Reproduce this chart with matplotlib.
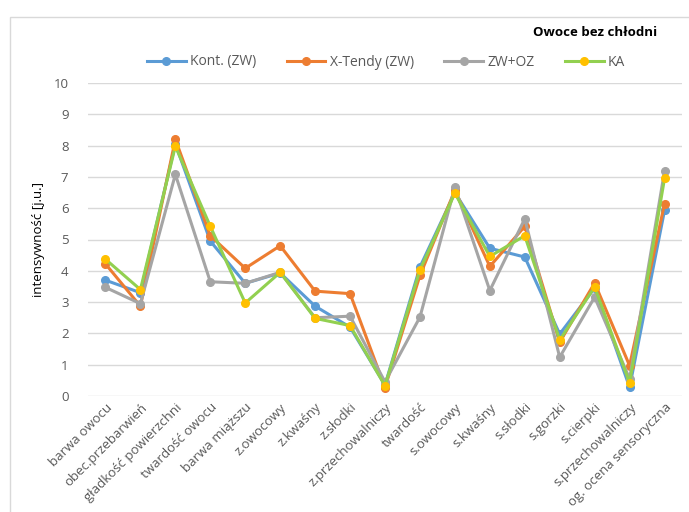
import matplotlib.pyplot as plt
from matplotlib.patches import Rectangle

categories = ['barwa owocu', 'obec.przebarwień', 'gładkość powierzchni', 'twardość owocu',
              'barwa miąższu', 'z.owocowy', 'z.kwaśny', 'z.słodki', 'z.przechowalniczy',
              'twardość', 's.owocowy', 's.kwaśny', 's.słodki', 's.gorzki', 's.cierpki',
              's.przechowalniczy', 'og. ocena sensoryczna']

kont = [3.70, 3.30, 8.05, 4.95, 3.60, 3.93, 2.87, 2.20, 0.35, 4.12, 6.50, 4.72, 4.44, 1.98, 3.45, 0.28, 5.93]
xtendy = [4.22, 2.87, 8.20, 5.12, 4.08, 4.80, 3.35, 3.27, 0.27, 3.85, 6.57, 4.14, 5.42, 1.72, 3.61, 0.97, 6.14]
zw_oz = [3.47, 2.95, 7.08, 3.65, 3.60, 3.95, 2.50, 2.55, 0.45, 2.52, 6.67, 3.37, 5.66, 1.24, 3.16, 0.55, 7.18]
ka = [4.37, 3.40, 7.98, 5.42, 2.97, 3.95, 2.48, 2.25, 0.33, 4.03, 6.48, 4.46, 5.12, 1.79, 3.48, 0.42, 6.95]

plt.rcParams['font.family'] = ['Open Sans', 'DejaVu Sans']

fig = plt.figure(figsize=(6.89, 5.12), dpi=100)
W, H = 689, 512

# chart frame
fig.patches.append(Rectangle((10 / W, -0.1), 1.2, 1 - 17 / H + 0.1, transform=fig.transFigure,
                             fill=False, edgecolor='#D9D9D9', linewidth=1.0))

ax = fig.add_axes([88 / W, 1 - 396 / H, (682 - 88) / W, (396 - 83) / H])
x = range(len(categories))

series = [
    ('Kont. (ZW)', kont, '#5B9BD5', '#5B9BD5'),
    ('X-Tendy (ZW)', xtendy, '#ED7D31', '#ED7D31'),
    ('ZW+OZ', zw_oz, '#A5A5A5', '#A5A5A5'),
    ('KA', ka, '#92D050', '#FFC000'),
]
for name, vals, col, mcol in series:
    ax.plot(x, vals, color=col, linewidth=2.2, marker='o', markersize=5.5,
            markerfacecolor=mcol, markeredgecolor=mcol, label=name, zorder=3)

ax.set_xlim(-0.5, len(categories) - 0.5)
ax.set_ylim(0, 10)
ax.set_yticks(range(0, 11))
ax.grid(axis='y', color='#D9D9D9', linewidth=1.0)
ax.set_axisbelow(True)
for s in ax.spines.values():
    s.set_visible(False)
ax.tick_params(axis='both', length=0, colors='#595959', labelsize=9.5)
ax.tick_params(axis='y', pad=14)
ax.set_xticks(list(x))
ax.set_xticklabels(categories, rotation=45, ha='right', rotation_mode='anchor', fontsize=9.5)
ax.set_ylabel('intensywność [j.u.]', fontsize=9.5, color='black', labelpad=6)

fig.text(657 / W, 1 - 33 / H, 'Owoce bez chłodni', ha='right', va='center',
         fontsize=9.5, fontweight='bold')

ax.legend(loc='center', bbox_to_anchor=(386 / W, 1 - 62 / H), bbox_transform=fig.transFigure,
          ncol=4, frameon=False, fontsize=10, handlelength=2.8, columnspacing=2.2,
          labelcolor='#595959', handletextpad=0.3)

fig.savefig('out.png', dpi=100)
